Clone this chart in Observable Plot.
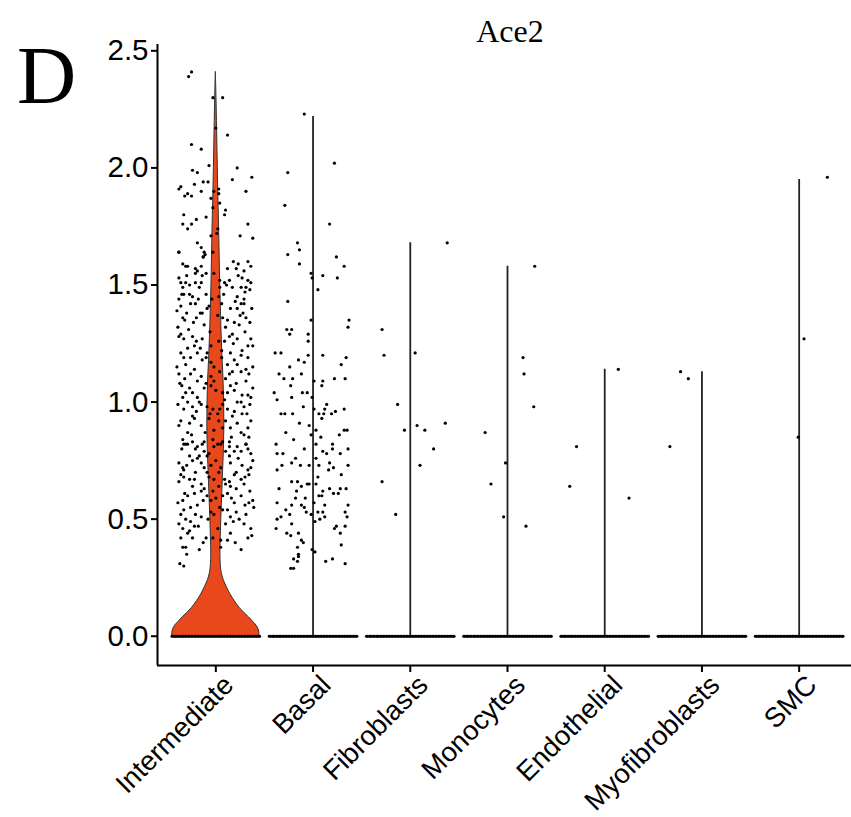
<!DOCTYPE html>
<html><head><meta charset="utf-8">
<script src="https://cdn.jsdelivr.net/npm/d3@7"></script>
<script src="https://cdn.jsdelivr.net/npm/@observablehq/plot@0.6"></script>
<style>
body{margin:0;background:#fff;}
#wrap{width:851px;height:817px;}
</style>
</head><body><div id="wrap"></div>
<script>
const categories = ["Intermediate","Basal","Fibroblasts","Monocytes","Endothelial","Myofibroblasts","SMC"];
const maxExpr = [2.41, 2.22, 1.68, 1.58, 1.14, 1.13, 1.95];
const yTicks = [0, 0.5, 1.0, 1.5, 2.0, 2.5];

// Intermediate violin density profile (expression level, relative half-width)
const violinLevels = [0,0.02,0.04,0.06,0.08,0.10,0.12,0.15,0.18,0.21,0.24,0.27,0.30,0.35,0.40,0.50,0.60,0.70,0.80,0.90,1.00,1.10,1.20,1.30,1.40,1.50,1.60,1.70,1.80,1.90,2.00,2.10,2.20,2.30,2.41];
const violinWidths = [1.0,0.99,0.95,0.86,0.76,0.65,0.55,0.43,0.33,0.25,0.18,0.135,0.115,0.105,0.11,0.125,0.145,0.165,0.185,0.195,0.19,0.175,0.15,0.13,0.115,0.10,0.09,0.08,0.068,0.055,0.045,0.035,0.025,0.015,0];

// jittered non-zero cells: [jitter (band units), expression]
const intermediatePts = [
[-0.25,2.41],[-0.28,2.39],[-0.03,2.30],[0.07,2.30],[0.00,2.17],[0.12,2.14],[-0.25,2.10],[-0.15,2.08],[-0.07,2.01],[0.22,2.00],
[-0.24,1.99],[-0.19,1.98],[0.37,1.96],[-0.13,1.94],[-0.08,1.94],[-0.22,1.93],[-0.38,1.91],[-0.36,1.92],[-0.29,1.89],[-0.32,1.88],
[-0.25,1.88],[-0.15,1.90],[-0.02,1.90],[0.03,1.91],[0.03,1.89],[-0.05,1.87],[0.31,1.90],[0.04,1.85],[-0.03,1.83],[0.10,1.82],
[-0.34,1.76],[-0.25,1.76],[-0.29,1.74],[0.02,1.74],[-0.05,1.71],[0.01,1.72],[0.25,1.71],[0.38,1.70],[-0.19,1.68],[-0.15,1.66],
[-0.12,1.64],[-0.13,1.62],[-0.03,1.64],[-0.38,1.64],
[-0.38,1.64],[-0.11,1.63],[-0.13,1.62],[-0.34,1.59],[-0.29,1.58],[-0.21,1.57],[-0.15,1.58],[0.18,1.60],[0.23,1.59],[0.33,1.60],
[0.36,1.58],[0.21,1.57],[-0.38,1.53],[-0.36,1.51],[-0.30,1.54],[-0.21,1.55],[-0.19,1.56],[-0.14,1.54],[-0.10,1.55],[-0.31,1.51],
[-0.21,1.51],[-0.15,1.51],[0.04,1.52],[0.09,1.51],[0.14,1.52],[0.27,1.53],[0.33,1.52],[0.36,1.51],[0.23,1.54],[0.29,1.56],
[-0.34,1.49],[-0.35,1.46],[-0.33,1.46],[-0.27,1.46],[-0.24,1.45],[-0.17,1.49],[-0.10,1.46],[0.04,1.49],[0.11,1.50],[0.17,1.49],
[0.26,1.49],[0.31,1.49],[0.35,1.48],[0.22,1.45],[0.29,1.44],[0.03,1.45],[-0.38,1.44],[-0.36,1.41],[-0.26,1.42],[-0.21,1.42],
[-0.16,1.38],[-0.09,1.40],[-0.04,1.44],[0.06,1.42],[0.15,1.40],[0.26,1.42],[0.22,1.40],[0.29,1.42],[0.28,1.38],[-0.40,1.39],
[-0.34,1.36],[-0.32,1.35],[-0.12,1.33],[-0.20,1.36],[-0.14,1.38],[0.07,1.36],[0.12,1.35],[0.19,1.34],[0.24,1.33],[0.31,1.36],
[0.35,1.34],[-0.39,1.32],[-0.28,1.31],[-0.38,1.28],[-0.33,1.27],[-0.24,1.28],[-0.20,1.26],[-0.14,1.27],[-0.22,1.24],[-0.05,1.24],
[0.03,1.26],[0.09,1.26],[0.14,1.28],[0.18,1.25],[0.22,1.27],[0.33,1.24],[0.38,1.24],[-0.36,1.21],[-0.40,1.15],[-0.33,1.19],
[-0.26,1.19],[-0.19,1.21],[-0.14,1.18],[-0.10,1.19],[-0.05,1.17],[-0.02,1.15],[0.06,1.19],[0.15,1.21],[0.19,1.18],[0.26,1.20],
[0.33,1.19],[0.38,1.15],[0.22,1.16],[-0.38,1.12],[-0.32,1.10],[-0.26,1.12],[-0.19,1.09],[-0.15,1.11],[-0.05,1.11],[-0.02,1.09],
[0.10,1.10],[0.14,1.12],[0.17,1.13],[0.26,1.13],[0.34,1.12],[0.31,1.09],[-0.35,1.07],[-0.31,1.04],[-0.24,1.04],[-0.19,1.02],
[-0.12,1.06],[-0.05,1.07],[0.00,1.05],[0.07,1.04],[0.12,1.04],[0.15,1.07],[0.19,1.05],[0.27,1.03],[0.33,1.03],[0.36,1.02],
[-0.34,1.02],[-0.39,0.99],[-0.29,1.00],[-0.24,0.98],[-0.15,0.99],[-0.09,0.98],[-0.03,0.97],[0.02,0.95],[0.07,0.99],[0.12,0.97],
[0.17,0.94],[0.22,1.00],[0.29,0.98],[0.35,0.99],[0.27,0.95],[-0.24,0.94],[-0.36,0.92],[-0.27,0.91],[-0.22,0.93],[-0.15,0.90],
[-0.07,0.93],[-0.02,0.88],[0.03,0.92],[0.10,0.92],[0.15,0.89],[0.22,0.91],[0.33,0.89],[0.36,0.92],[0.26,0.87],[-0.29,0.87],
[-0.34,0.84],[-0.31,0.82],[-0.24,0.83],[-0.19,0.81],[-0.12,0.83],[-0.03,0.84],[0.02,0.82],[0.07,0.83],[0.14,0.83],[0.22,0.81],
[0.31,0.82],[0.34,0.85],
[-0.33,0.82],[-0.29,0.82],[-0.21,0.80],[-0.14,0.82],[-0.12,0.79],[-0.02,0.81],[0.05,0.82],[0.14,0.81],[0.19,0.79],[0.31,0.82],
[0.33,0.80],[0.36,0.78],[0.26,0.79],[-0.17,0.77],[-0.09,0.77],[0.14,0.77],[-0.38,0.74],[-0.34,0.72],[-0.30,0.73],[-0.24,0.75],
[-0.19,0.76],[-0.12,0.72],[-0.05,0.73],[0.00,0.75],[0.05,0.72],[0.15,0.74],[0.21,0.70],[0.27,0.73],[0.33,0.71],[0.36,0.72],
[-0.21,0.70],[-0.36,0.69],[-0.33,0.68],[-0.27,0.67],[-0.22,0.67],[-0.15,0.65],[-0.07,0.68],[-0.02,0.67],[0.03,0.64],[0.10,0.65],
[0.14,0.66],[0.15,0.64],[0.26,0.67],[0.34,0.69],[0.29,0.65],[-0.12,0.63],[-0.39,0.57],[-0.34,0.58],[-0.29,0.60],[-0.22,0.61],
[-0.15,0.62],[-0.09,0.60],[-0.05,0.58],[0.00,0.59],[0.07,0.60],[0.12,0.61],[0.19,0.57],[0.26,0.60],[0.34,0.57],[0.38,0.58],
[-0.19,0.56],[-0.36,0.52],[-0.31,0.50],[-0.26,0.49],[-0.21,0.52],[-0.15,0.51],[-0.05,0.53],[-0.02,0.52],[0.07,0.54],[0.12,0.54],
[0.15,0.51],[0.24,0.50],[0.39,0.55],[0.10,0.48],[0.31,0.52],[-0.34,0.46],[-0.27,0.45],[-0.22,0.47],[-0.10,0.42],[-0.24,0.42],
[-0.03,0.42],[0.12,0.41],[0.05,0.41],[0.36,0.46],[0.33,0.42],[-0.36,0.42],[-0.34,0.38],[-0.31,0.38],[-0.17,0.37],[0.05,0.38],
[0.26,0.37],[-0.37,0.31],[-0.33,0.30],
[-0.31,1.58],[0.12,1.57],[-0.02,1.55],[0.30,1.47],[-0.27,1.50],[0.08,1.46],[-0.18,1.44],[0.20,1.43],[-0.07,1.41],[0.37,1.40],
[-0.30,1.38],[0.02,1.37],[0.25,1.37],[-0.23,1.34],[0.10,1.32],[-0.06,1.30],[0.30,1.30],[-0.36,1.29],[0.17,1.29],[-0.16,1.23],
[0.06,1.22],[0.27,1.22],[-0.29,1.23],[0.36,1.27],[-0.09,1.21],[0.12,1.16],[-0.31,1.16],[0.31,1.14],[-0.22,1.14],[0.04,1.13],
[-0.37,1.08],[0.21,1.08],[-0.10,1.08],[0.38,1.06],[-0.27,1.06],[0.09,1.01],[-0.17,1.00],[0.26,1.00],[-0.33,0.97],[0.04,0.97],
[0.32,0.95],[-0.20,0.96],[-0.06,0.95],[0.19,0.96],[-0.38,0.90],[0.07,0.89],[-0.11,0.87],[0.29,0.86],[-0.25,0.86],[0.16,0.85],
[-0.35,0.80],[0.10,0.79],[-0.07,0.78],[0.23,0.76],[-0.27,0.77],[0.38,0.75],[-0.15,0.74],[0.03,0.70],[-0.33,0.71],[0.19,0.69],
[-0.09,0.70],[0.30,0.68],[-0.38,0.66],[0.09,0.67],[-0.24,0.64],[0.21,0.63],[-0.03,0.62],[0.35,0.62],[-0.32,0.61],[0.16,0.59],
[-0.13,0.58],[0.30,0.56],[-0.26,0.55],[0.04,0.55],[0.21,0.53],[-0.33,0.54],[-0.08,0.50],[0.18,0.49],[-0.38,0.48],[0.29,0.48],
[-0.18,0.47],[0.02,0.46],[-0.29,0.44],[0.15,0.44],[0.37,0.43],[-0.13,0.40],[-0.30,0.35],[0.20,0.40],[0.33,1.76],[-0.20,1.78],
[0.09,1.80],[-0.33,1.80],[0.17,1.95],[-0.10,1.79]
];
const basalPts = [
[-0.09,2.23],[0.22,2.02],[-0.26,1.98],[-0.29,1.84],[0.17,1.76],[-0.16,1.68],[-0.14,1.65],[-0.26,1.63],[0.24,1.62],[-0.14,1.59],
[0.32,1.58],[-0.02,1.55],[0.10,1.54],[-0.01,1.53],[0.25,1.53],[0.05,1.48],[-0.26,1.43],[-0.02,1.35],[0.37,1.35],[0.36,1.32],
[-0.27,1.31],[-0.22,1.31],[-0.24,1.29],[-0.05,1.29],[-0.05,1.26],[-0.39,1.21],[-0.33,1.21],[-0.05,1.20],[0.10,1.20],[-0.15,1.18],
[0.34,1.19],[-0.09,1.17],[0.29,1.16],[-0.24,1.15],
[-0.35,1.12],[-0.30,1.10],[-0.21,1.10],[-0.12,1.12],[0.33,1.10],[0.01,1.09],[0.10,1.09],[0.22,1.10],[-0.23,1.07],[0.09,1.07],
[-0.40,1.04],[-0.22,1.02],[-0.11,1.04],[-0.06,1.04],[-0.37,1.01],[-0.01,1.02],[0.14,0.99],[0.12,0.97],[-0.10,0.98],[0.32,0.97],
[-0.33,0.95],[-0.29,0.95],[-0.21,0.95],[0.01,0.97],[0.06,0.95],[0.11,0.95],[0.19,0.95],[0.23,0.96],[0.09,0.93],[-0.14,0.91],
[-0.04,0.90],[0.03,0.88],[0.32,0.88],[0.27,0.86],[0.35,0.88],[-0.28,0.87],[-0.02,0.86],[-0.20,0.84],[0.08,0.85],[0.03,0.82],
[0.20,0.82],[-0.38,0.82],[0.20,0.80],[0.36,0.80],[-0.09,0.80],[-0.37,0.78],[-0.31,0.78],[0.10,0.79],[0.14,0.78],[0.28,0.78],
[-0.18,0.76],[0.03,0.76],[-0.22,0.74],[0.17,0.74],[-0.37,0.71],[-0.32,0.73],[-0.13,0.73],[-0.04,0.73],[0.06,0.73],[0.21,0.72],
[0.36,0.73],[0.16,0.71],[0.29,0.69],[0.05,0.68],[-0.22,0.66],[-0.16,0.66],[-0.06,0.65],[-0.12,0.64],[-0.04,0.65],[0.03,0.65],
[0.34,0.63],[-0.35,0.63],[0.17,0.63],[0.28,0.63],[0.10,0.62],[-0.17,0.62],[0.06,0.60],[0.09,0.60],[0.21,0.61],[-0.18,0.59],
[-0.08,0.59],[0.26,0.61],[-0.37,0.57],[0.36,0.56],[-0.22,0.56],[-0.12,0.56],[-0.09,0.55],[0.01,0.57],[-0.28,0.54],[0.12,0.56],
[-0.07,0.53],[0.05,0.53],[0.10,0.53],[-0.24,0.52],[-0.33,0.51],[-0.37,0.50],[-0.02,0.52],[0.33,0.53],[0.12,0.51],[0.07,0.50],
[0.02,0.49],[0.35,0.51],[-0.22,0.48],[0.33,0.47],[0.24,0.47],[-0.38,0.46],[0.22,0.46],[-0.27,0.44],[-0.23,0.43],[-0.15,0.44],
[0.28,0.44],[-0.12,0.41],[-0.10,0.40],[0.29,0.39],[-0.16,0.38],[-0.01,0.37],[0.02,0.36],[-0.15,0.35],[-0.15,0.34],[-0.20,0.33],
[-0.16,0.32],[0.13,0.32],[0.20,0.33],[0.33,0.31],[-0.23,0.29],[-0.20,0.29]
];
const fibroblastPts = [[0.38,1.68],[-0.29,1.31],[-0.27,1.20],[0.05,1.21],[-0.13,0.99],[-0.06,0.88],[0.07,0.90],[0.15,0.88],[0.36,0.91],[0.24,0.80],[0.10,0.73],[-0.29,0.66],[-0.15,0.52]];
const monocytePts = [[0.28,1.58],[0.16,1.19],[0.17,1.12],[0.27,0.98],[-0.23,0.87],[-0.02,0.74],[-0.17,0.65],[-0.04,0.51],[0.19,0.47]];
const endothelialPts = [[0.14,1.14],[-0.29,0.81],[-0.36,0.64],[0.25,0.59]];
const myofibroblastPts = [[-0.22,1.13],[-0.14,1.10],[-0.33,0.81]];
const smcPts = [[0.29,1.96],[0.05,1.27],[-0.01,0.85]];
// jitter of the many zero-expression cells (same spread in every cluster)
const zeroJitter = [-0.45,-0.44,-0.42,-0.41,-0.40,-0.38,-0.37,-0.35,-0.34,-0.33,-0.31,-0.30,-0.28,-0.27,-0.25,-0.24,-0.22,-0.21,-0.19,-0.18,-0.16,-0.15,-0.13,-0.12,-0.10,-0.09,-0.07,-0.06,-0.04,-0.03,-0.01,0.00,0.02,0.03,0.05,0.06,0.08,0.09,0.11,0.12,0.14,0.15,0.17,0.18,0.20,0.21,0.23,0.24,0.26,0.27,0.29,0.30,0.32,0.33,0.35,0.36,0.38,0.39,0.41,0.42,0.44,0.45];

const clusterPts = [intermediatePts, basalPts, fibroblastPts, monocytePts, endothelialPts, myofibroblastPts, smcPts];
const points = [];
clusterPts.forEach((pts, i) => {
  zeroJitter.forEach(j => points.push({x: i + j, y: 0}));
  pts.forEach(([j, v]) => points.push({x: i + j, y: v}));
});
const violinRows = violinLevels.map((v, k) => ({v, w: violinWidths[k] * 0.45}));
const thinViolins = maxExpr.map((m, i) => ({i, m})).slice(1);

const xDomain = [-0.6, 6.6];
const yDomain = [-0.125, 2.527];
const chart = Plot.plot({
  width: 851, height: 817,
  marginLeft: 157, marginTop: 44, marginBottom: 152, marginRight: 0,
  x: {domain: xDomain, range: [157, 857]},
  y: {domain: yDomain, range: [665, 44]},
  style: {fontFamily: '"Liberation Sans", Arial, sans-serif', fontSize: "29.5px", color: "#000", background: "#fff", overflow: "visible"},
  marks: [
    Plot.areaX(violinRows, {y: "v", x1: d => -d.w, x2: d => d.w, fill: "#E8481C", stroke: "#333", strokeWidth: 1, curve: "catmull-rom"}),
    Plot.ruleX(thinViolins, {x: "i", y1: 0, y2: "m", stroke: "#222", strokeWidth: 1.8}),
    Plot.dot(points, {x: "x", y: "y", r: 1.6, fill: "#000"}),
    Plot.axisY({ticks: yTicks, tickFormat: d => d.toFixed(1), tickSize: 6, tickPadding: 3, strokeWidth: 2, fontSize: 29.5}),
    Plot.axisX({ticks: d3.range(7), tickFormat: () => "", tickSize: 7, strokeWidth: 2}),
    Plot.axisX({ticks: d3.range(7), tickFormat: i => categories[i], tickSize: 0, tickPadding: 15, tickRotate: -45, fontSize: 27.5, dx: 13}),
    Plot.ruleX([xDomain[0]], {stroke: "#000", strokeWidth: 2}),
    Plot.ruleY([yDomain[0]], {stroke: "#000", strokeWidth: 2})
  ]
});
const svg = d3.select(chart);
svg.append("text").attr("x", 17).attr("y", 103).attr("text-anchor", "start").attr("font-family", '"Liberation Serif", serif').attr("font-size", 82).attr("fill", "#000").text("D");
svg.append("text").attr("x", 510).attr("y", 42).attr("text-anchor", "middle").attr("font-family", '"Liberation Serif", serif').attr("font-size", 32).attr("fill", "#000").text("Ace2");
document.getElementById("wrap").appendChild(chart);
</script>
</body></html>
